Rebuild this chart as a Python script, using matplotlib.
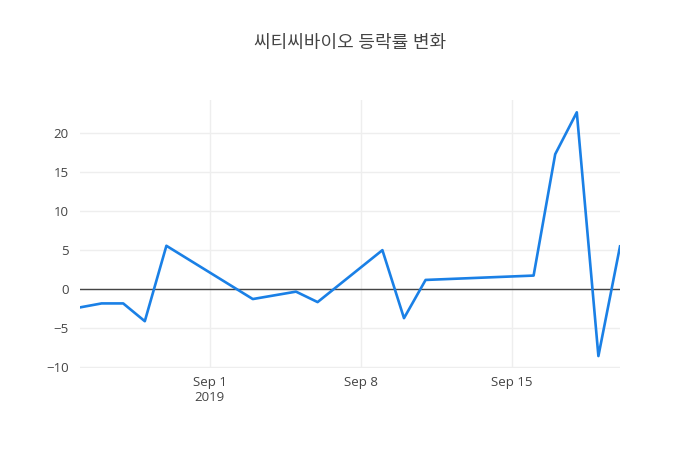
import matplotlib
matplotlib.use("Agg")
import matplotlib.pyplot as plt
import pandas as pd

dates = ["2019-08-26", "2019-08-27", "2019-08-28", "2019-08-29", "2019-08-30",
         "2019-09-03", "2019-09-05", "2019-09-06", "2019-09-09", "2019-09-10",
         "2019-09-11", "2019-09-16", "2019-09-17", "2019-09-18", "2019-09-19",
         "2019-09-20"]
changes = [-2.36, -1.85, -1.85, -4.13, 5.54, -1.29, -0.34, -1.68, 4.98, -3.74,
           1.16, 1.72, 17.28, 22.65, -8.6, 5.46]
title = "씨티씨바이오 등락률 변화"
x_ticks = ["2019-09-01", "2019-09-08", "2019-09-15"]
x_tick_labels = ["Sep 1\n2019", "Sep 8", "Sep 15"]
y_ticks = [-10, -5, 0, 5, 10, 15, 20]

plt.rcParams['font.family'] = ['Open Sans', 'Noto Sans CJK KR', 'DejaVu Sans']

x = pd.to_datetime(dates)
fig = plt.figure(figsize=(7, 4.5), dpi=100)
ax = fig.add_axes([80/700, 82/450, 540/700, 268/450])

ax.plot(x, changes, color='#1a80e6', linewidth=1.9, zorder=3, clip_on=True)
ax.axhline(0, color='#444444', linewidth=1, zorder=2)

ax.set_xlim(x[0], x[-1])
ax.set_ylim(-10.13, 24.23)
ax.set_yticks(y_ticks)
ax.set_yticklabels(["\u221210", "\u22125", "0", "5", "10", "15", "20"])
ax.set_xticks(pd.to_datetime(x_ticks))
ax.set_xticklabels(x_tick_labels)

ax.grid(True, color='#eeeeee', linewidth=1, zorder=0)
for s in ax.spines.values():
    s.set_visible(False)
ax.tick_params(axis='both', length=0, labelsize=9.5, labelcolor='#444444')
ax.tick_params(axis='x', pad=6)
ax.tick_params(axis='y', pad=8)

fig.text(350/700, 1 - 43/450, title, ha='center', va='center',
         fontsize=13, color='#444444')

fig.savefig("out.png", dpi=100)
